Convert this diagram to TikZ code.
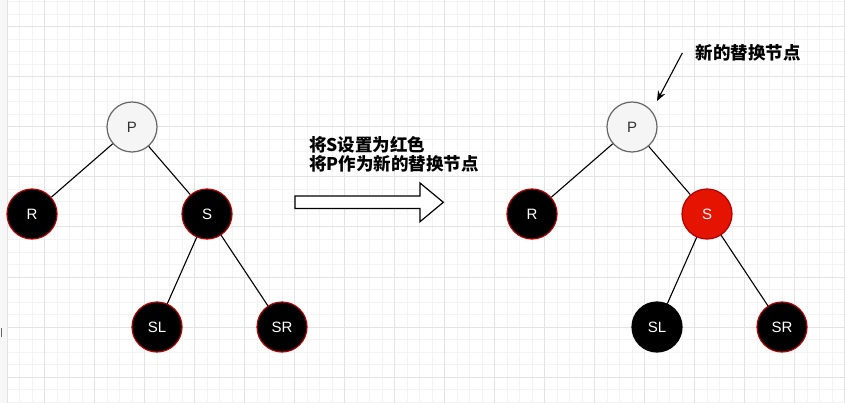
\documentclass[tikz,border=0pt]{standalone}
\usepackage{fontspec}
\setmainfont{Liberation Sans}
\newfontfamily\cjk{Noto Sans CJK SC}
\usepackage{xcolor}
\usepackage{tikz}
\usetikzlibrary{arrows.meta}

\definecolor{gridmajor}{HTML}{E3E3E3}
\definecolor{gridminor}{HTML}{F3F3F3}
\definecolor{gridside}{HTML}{F7F7F7}
\definecolor{darkred}{HTML}{B20000}
\definecolor{brightred}{HTML}{E51400}
\definecolor{pfill}{HTML}{F5F5F5}
\definecolor{pdraw}{HTML}{666666}

\tikzset{
  rbnode/.style={circle, minimum size=50pt, inner sep=0pt, line width=1.2pt,
    font=\fontsize{15}{18}\selectfont},
  blacknode/.style={rbnode, fill=black, draw=darkred, text=white},
  rednode/.style={rbnode, fill=brightred, draw=darkred, text=white},
  pnode/.style={rbnode, fill=pfill, draw=pdraw, text=black!80},
  treeedge/.style={line width=1.1pt},
  note/.style={font=\cjk\bfseries\fontsize{17.5}{19.5}\selectfont, inner sep=0pt},
  minorline/.style={gridminor, line width=1pt},
  majorline/.style={gridmajor, line width=1pt}
}

\begin{document}
\begin{tikzpicture}[x=1pt,y=-1pt]
\useasboundingbox (0,0) rectangle (845,403);
% background grid
\fill[gridside] (0,0) rectangle (7,403);
\foreach \i in {0,...,67} \draw[minorline] ({7+12.5*\i},0) -- ({7+12.5*\i},403);
\foreach \j in {0,...,32} \draw[minorline] (7,{2+12.5*\j}) -- (845,{2+12.5*\j});
\foreach \i in {0,...,16} \draw[majorline] ({44.5+50*\i},0) -- ({44.5+50*\i},403);
\foreach \j in {0,...,7} \draw[majorline] (7,{27+50*\j}) -- (845,{27+50*\j});
\draw[majorline] (7,0) -- (7,403);
\draw[black!60, line width=1pt] (1.5,328) -- (1.5,337);

% before
\node[pnode] (pL) at (132,127) {P};
\node[blacknode] (rL) at (32,214) {R};
\node[blacknode] (sL) at (207,214) {S};
\node[blacknode] (slL) at (157,327) {SL};
\node[blacknode] (srL) at (282,327) {SR};
\draw[treeedge] (pL) -- (rL);
\draw[treeedge] (pL) -- (sL);
\draw[treeedge] (sL) -- (slL);
\draw[treeedge] (sL) -- (srL);

% step
\node[note, anchor=west, align=left] (stepnote) at (309,154.5) {将S设置为红色\\将P作为新的替换节点};
\draw[line width=1.2pt, fill=white] (295,196) -- (420,196) -- (420,183) -- (443.3,202.3)
  -- (420,221.7) -- (420,208.5) -- (295,208.5) -- cycle;

% after
\node[pnode] (pR) at (632,127) {P};
\node[blacknode] (rR) at (532,214) {R};
\node[rednode] (sR) at (707,214) {S};
\node[blacknode, draw=black] (slR) at (657,327) {SL};
\node[blacknode] (srR) at (782,327) {SR};
\draw[treeedge] (pR) -- (rR);
\draw[treeedge] (pR) -- (sR);
\draw[treeedge] (sR) -- (slR);
\draw[treeedge] (sR) -- (srR);

\node[note] (newlbl) at (748,53) {新的替换节点};
\draw[treeedge, -{Stealth[length=10pt,width=8pt]}] ([xshift=-13pt]newlbl.west)
  -- ([shift={(25,-26)}]pR.center);
\end{tikzpicture}
\end{document}
